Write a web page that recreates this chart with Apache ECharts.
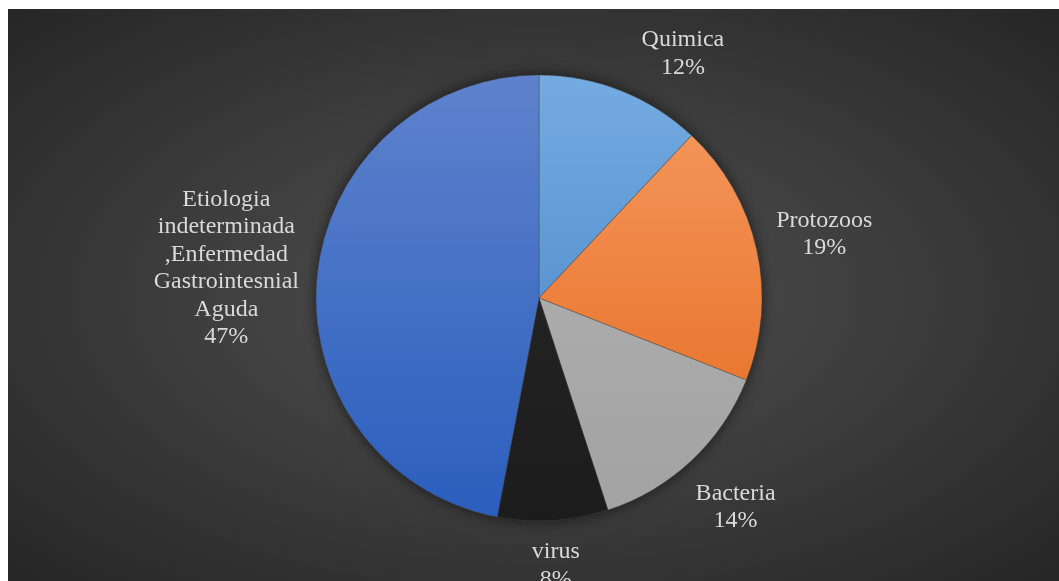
<!DOCTYPE html>
<html><head><meta charset="utf-8">
<script src="https://cdn.jsdelivr.net/npm/echarts@6/dist/echarts.min.js"></script>
<style>
html,body{margin:0;padding:0;background:#fff;width:1059px;height:581px;overflow:hidden}
#chart{position:absolute;left:8px;top:9px;width:1051px;height:572px;background:radial-gradient(ellipse farthest-corner at 50% 50%, #525252 0%, #262626 100%)}
</style></head><body><div id="chart"></div>
<script>
const categories = ['Quimica', 'Protozoos', 'Bacteria', 'virus', 'Etiologia\nindeterminada\n,Enfermedad\nGastrointesnial\nAguda'];
const values = [12, 19, 14, 8, 47];
const colorTop = ['#74abe1', '#f69b62', '#b5b5b5', '#292929', '#5e82cd'];
const colorBottom = ['#3f80c2', '#e3671a', '#a2a2a2', '#1c1c1c', '#2a5ebd'];

const CX = 531, CY = 289, R = 223, GAP = 17, TOP = 17;
const total = values.reduce((a, b) => a + b, 0);
const mids = [];
let acc = 0;
values.forEach(v => { mids.push((acc + v / 2) / total * 2 * Math.PI); acc += v; });

function closestDist(cx, cy, w, h) {
  const dx = Math.max(Math.abs(cx) - w / 2, 0);
  const dy = Math.max(Math.abs(cy) - h / 2, 0);
  return Math.hypot(dx, dy);
}
function place(theta, w, h) {
  const ux = Math.sin(theta), uy = -Math.cos(theta);
  let lo = 0, hi = 1000;
  for (let k = 0; k < 50; k++) {
    const m = (lo + hi) / 2;
    if (closestDist(ux * m, uy * m, w, h) < R + GAP) lo = m; else hi = m;
  }
  return [ux * hi, uy * hi];
}

const chart = echarts.init(document.getElementById('chart'), null, {renderer: 'canvas'});
chart.setOption({
  animation: false,
  backgroundColor: 'transparent',
  series: [{
    type: 'pie',
    silent: true,
    center: [CX, CY],
    radius: [0, R],
    label: {show: false},
    labelLine: {show: false},
    emphasis: {disabled: true},
    itemStyle: {color: '#2a2a2a', shadowBlur: 14, shadowColor: 'rgba(0,0,0,0.6)'},
    data: [{value: total, name: ''}]
  }, {
    type: 'pie',
    center: [CX, CY],
    radius: [0, R],
    startAngle: 90,
    clockwise: true,
    percentPrecision: 0,
    emphasis: {disabled: true},
    itemStyle: {
      borderColor: 'rgba(70,70,70,0.7)',
      borderWidth: 0.6
    },
    label: {
      show: true,
      position: 'outside',
      formatter: '{b}\n{d}%',
      color: '#d9d9d9',
      fontFamily: 'Liberation Serif',
      fontSize: 24,
      lineHeight: 27.5,
      align: 'center'
    },
    labelLine: {show: false},
    labelLayout: function (p) {
      const w = p.labelRect.width, h = p.labelRect.height;
      let th = mids[p.dataIndex];
      let pos = place(th, w, h);
      const dir = Math.sin(th) >= 0 ? 1 : -1;
      let n = 0;
      while (CY + pos[1] - h / 2 < TOP && n < 300) {
        th += dir * 0.005;
        pos = place(th, w, h);
        n++;
      }
      return {x: CX + pos[0], y: CY + pos[1], align: 'center', verticalAlign: 'middle'};
    },
    data: categories.map((c, i) => ({
      name: c,
      value: values[i],
      itemStyle: {
        color: {
          type: 'linear', global: true, x: 0, y: CY - R, x2: 0, y2: CY + R,
          colorStops: [{offset: 0, color: colorTop[i]}, {offset: 1, color: colorBottom[i]}]
        }
      }
    }))
  }]
});
</script></body></html>
